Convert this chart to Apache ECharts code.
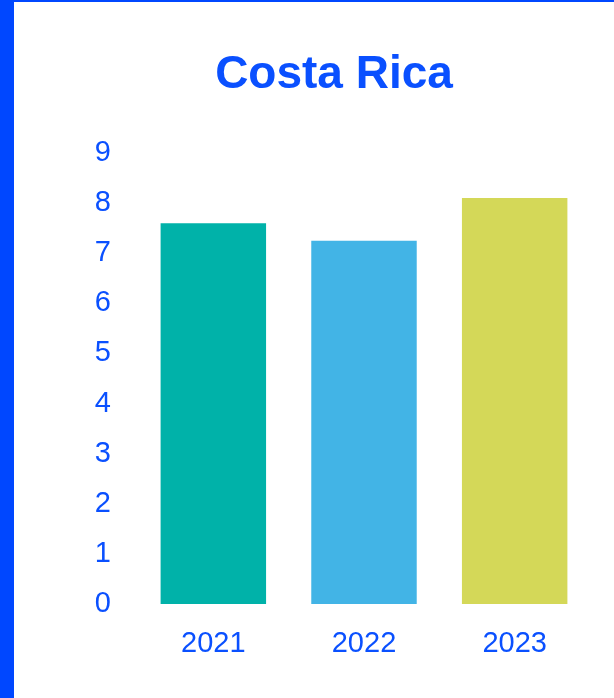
<!DOCTYPE html>
<html>
<head>
<meta charset="utf-8">
<script src="https://cdn.jsdelivr.net/npm/echarts@6/dist/echarts.min.js"></script>
<style>
html,body{margin:0;padding:0;background:#fff;}
#chart{position:absolute;left:0;top:0;width:614px;height:698px;}
#bl{position:absolute;left:0;top:0;width:14px;height:698px;background:#0047FF;}
#bt{position:absolute;left:0;top:0;width:614px;height:2px;background:#0047FF;}
</style>
</head>
<body>
<div id="chart"></div>
<div id="bl"></div>
<div id="bt"></div>
<script>
var categories = ['2021', '2022', '2023'];
var values = [7.6, 7.25, 8.1];
var barColors = ['#00B2A9', '#42B4E6', '#D4D858'];
var titleText = 'Costa Rica';

var blue = '#0A50FF';
var chart = echarts.init(document.getElementById('chart'));
chart.setOption({
  animation: false,
  title: {
    text: titleText,
    left: 329,
    textAlign: 'center',
    top: 47,
    textStyle: {color: blue, fontSize: 46, fontWeight: 'bold', fontFamily: 'Liberation Sans, Arial, sans-serif'}
  },
  grid: {left: 138, right: 24, top: 153, bottom: 94, containLabel: false},
  xAxis: {
    type: 'category',
    data: categories,
    axisLine: {show: false},
    axisTick: {show: false},
    axisLabel: {color: blue, fontSize: 29, margin: 25, fontFamily: 'Liberation Sans, Arial, sans-serif'}
  },
  yAxis: {
    type: 'value',
    min: 0, max: 9, interval: 1,
    axisLine: {show: false},
    axisTick: {show: false},
    splitLine: {show: false},
    axisLabel: {color: blue, fontSize: 29, margin: 27, fontFamily: 'Liberation Sans, Arial, sans-serif'}
  },
  series: [{
    type: 'bar',
    barCategoryGap: '30%',
    data: values.map(function (v, i) { return {value: v, itemStyle: {color: barColors[i]}}; })
  }]
});
</script>
</body>
</html>
